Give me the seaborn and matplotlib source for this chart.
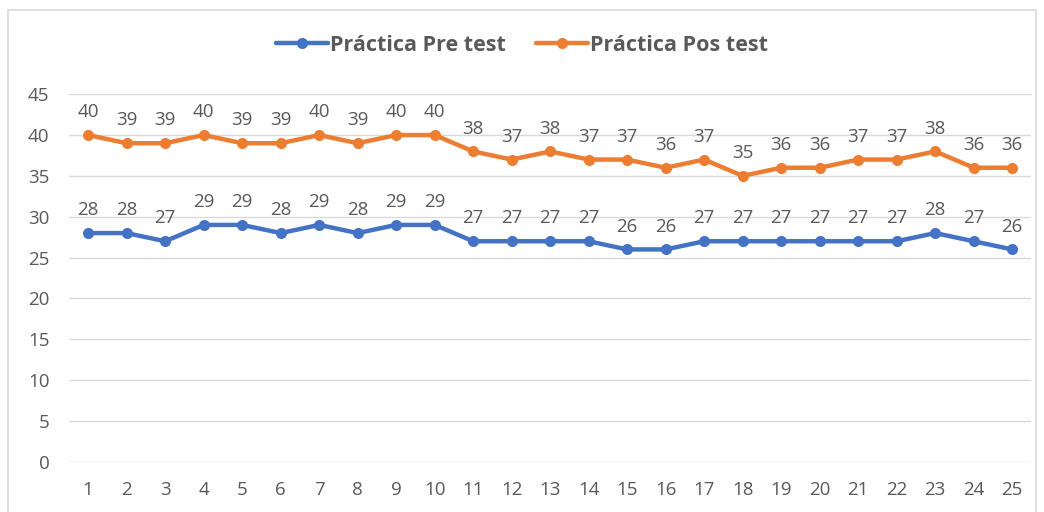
import pandas as pd
import numpy as np
import matplotlib.pyplot as plt
import seaborn as sns
from matplotlib.patches import Rectangle

# -----------------------------
# Data
# -----------------------------
sessions = list(range(1, 26))
pre_test = [28, 28, 27, 29, 29, 28, 29, 28, 29, 29, 27, 27, 27, 27, 26,
            26, 27, 27, 27, 27, 27, 27, 28, 27, 26]
pos_test = [40, 39, 39, 40, 39, 39, 40, 39, 40, 40, 38, 37, 38, 37, 37,
            36, 37, 35, 36, 36, 37, 37, 38, 36, 36]
series_names = ["Práctica Pre test", "Práctica Pos test"]
series_colors = ["#4472C4", "#ED7D31"]

df = pd.DataFrame({
    "sesion": sessions * 2,
    "valor": pre_test + pos_test,
    "serie": [series_names[0]] * len(sessions) + [series_names[1]] * len(sessions),
})

# -----------------------------
# Plot
# -----------------------------
sns.set_theme(style="white")
plt.rcParams["font.family"] = ["Open Sans", "DejaVu Sans"]
text_color = "#595959"

fig = plt.figure(figsize=(10.44, 5.12), dpi=100)
ax = fig.add_axes([0.066, 0.098, 0.922, 0.718])

sns.lineplot(data=df, x="sesion", y="valor", hue="serie",
             palette=dict(zip(series_names, series_colors)),
             marker="o", markersize=8, markeredgewidth=0, linewidth=3.2,
             ax=ax, legend=True)

# data labels
for _, row in df.iterrows():
    ax.annotate(str(row["valor"]), (row["sesion"], row["valor"]),
                xytext=(0, 10), textcoords="offset points",
                ha="center", va="bottom", fontsize=13.5, color=text_color)

ax.set_xlim(0.5, 25.5)
ax.set_ylim(0, 45)
ax.set_yticks(np.arange(0, 46, 5))
ax.set_xticks(sessions)
ax.set_xticklabels([str(s) for s in sessions])
ax.tick_params(axis="both", labelsize=13.5, labelcolor=text_color, length=0)
ax.tick_params(axis="x", pad=14)
ax.tick_params(axis="y", pad=14)
ax.set_xlabel("")
ax.set_ylabel("")
ax.grid(axis="y", color="#D9D9D9", linewidth=1)
ax.set_axisbelow(True)
for s in ax.spines.values():
    s.set_visible(False)

leg = ax.legend(loc="center", bbox_to_anchor=(0.5, 0.912),
                bbox_transform=fig.transFigure, ncol=2, frameon=False,
                prop={"weight": "bold", "size": 15.5}, handlelength=2.4,
                columnspacing=1.4, handletextpad=0.1)
for t in leg.get_texts():
    t.set_color(text_color)

# chart frame
fig.patches.append(Rectangle((8 / 1044, -0.05), 1028 / 1044, 1.05 - 10 / 512,
                             transform=fig.transFigure, fill=False,
                             edgecolor="#D9D9D9", linewidth=1.2))

fig.savefig("out.png", dpi=100)
